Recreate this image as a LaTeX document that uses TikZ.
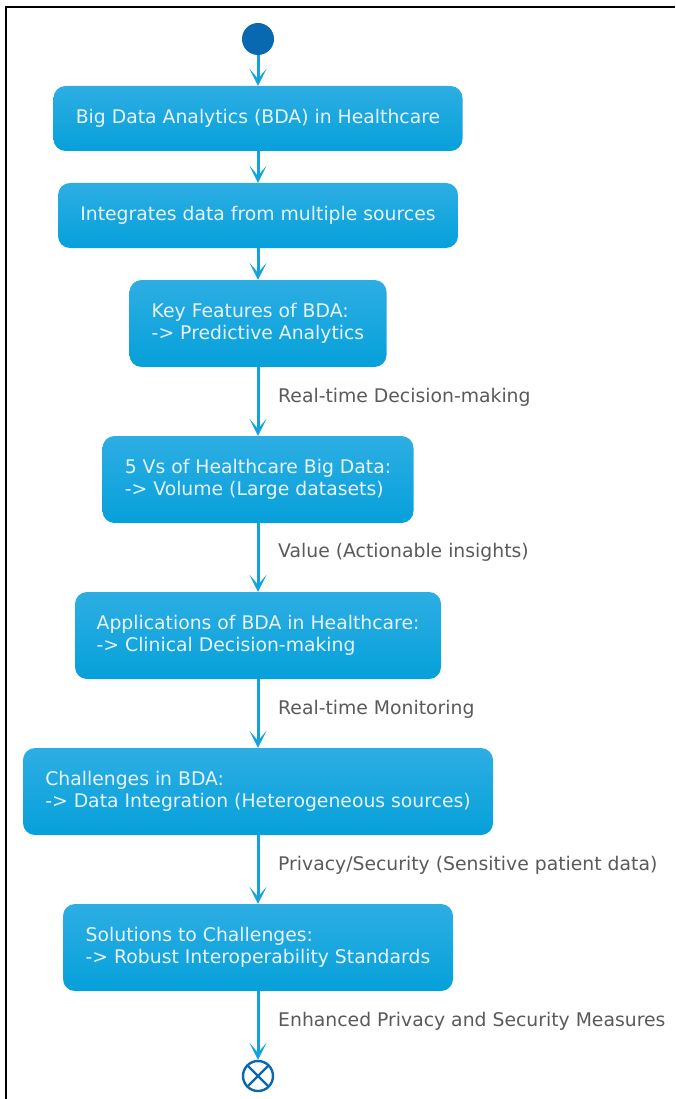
\documentclass[tikz,border=0pt]{standalone}
\usepackage{fontspec}
\setmainfont{DejaVu Sans}
\usetikzlibrary{arrows.meta}
\definecolor{boxtop}{RGB}{45,174,227}
\definecolor{boxbot}{RGB}{6,160,218}
\definecolor{boxtext}{RGB}{232,244,250}
\definecolor{edgec}{RGB}{18,162,222}
\definecolor{startc}{RGB}{8,104,176}
\definecolor{labc}{RGB}{90,90,90}
\tikzset{
  actbox/.style={rectangle, rounded corners=12pt, top color=boxtop, bottom color=boxbot,
    draw=none, text=boxtext, align=left, font=\fontsize{18.8}{22}\selectfont,
    inner sep=0pt},
  flow/.style={draw=edgec, line width=3pt, -{Stealth[length=17pt,width=17pt,inset=10pt]}},
  elabel/.style={anchor=west, text=labc, font=\fontsize{18.8}{22}\selectfont, inner sep=0pt},
}
\begin{document}
\begin{tikzpicture}[x=1pt,y=-1pt]
\useasboundingbox (0,0) rectangle (675,1099);
\draw[line width=2pt] (6,1099) -- (6,7) -- (675,7);
\node[circle, fill=startc, minimum size=32pt, inner sep=0pt] (start) at (258,39) {};
\node[actbox, minimum width=409pt, minimum height=65pt] (b1) at (258,118.5) {Big Data Analytics (BDA) in Healthcare};
\node[actbox, minimum width=400pt, minimum height=65pt] (b2) at (258,215.5) {Integrates data from multiple sources};
\node[actbox, minimum width=257pt, minimum height=87pt] (b3) at (258,323.5) {Key Features of BDA:\\-> Predictive Analytics};
\node[actbox, minimum width=311pt, minimum height=87pt] (b4) at (258,479.5) {5 Vs of Healthcare Big Data:\\-> Volume (Large datasets)};
\node[actbox, minimum width=366pt, minimum height=87pt] (b5) at (258,635.5) {Applications of BDA in Healthcare:\\-> Clinical Decision-making};
\node[actbox, minimum width=470pt, minimum height=87pt] (b6) at (258,791.5) {Challenges in BDA:\\-> Data Integration (Heterogeneous sources)};
\node[actbox, minimum width=390pt, minimum height=87pt] (b7) at (258,947.5) {Solutions to Challenges:\\-> Robust Interoperability Standards};
\node[circle, draw=startc, line width=2.4pt, minimum size=30pt, inner sep=0pt,
  path picture={\draw[startc, line width=2.4pt] (path picture bounding box.north west) -- (path picture bounding box.south east)
    (path picture bounding box.north east) -- (path picture bounding box.south west);}] (stop) at (258,1076) {};
\draw[flow] (start) -- (b1);
\draw[flow] (b1) -- (b2);
\draw[flow] (b2) -- (b3);
\draw[flow] (b3) -- (b4);
\draw[flow] (b4) -- (b5);
\draw[flow] (b5) -- (b6);
\draw[flow] (b6) -- (b7);
\draw[flow] (b7) -- (stop);
\node[elabel] (l1) at (278,397) {Real-time Decision-making};
\node[elabel] (l2) at (278,552) {Value (Actionable insights)};
\node[elabel] (l3) at (278,709) {Real-time Monitoring};
\node[elabel] (l4) at (278,865) {Privacy/Security (Sensitive patient data)};
\node[elabel] (l5) at (278,1021) {Enhanced Privacy and Security Measures};
\end{tikzpicture}
\end{document}
